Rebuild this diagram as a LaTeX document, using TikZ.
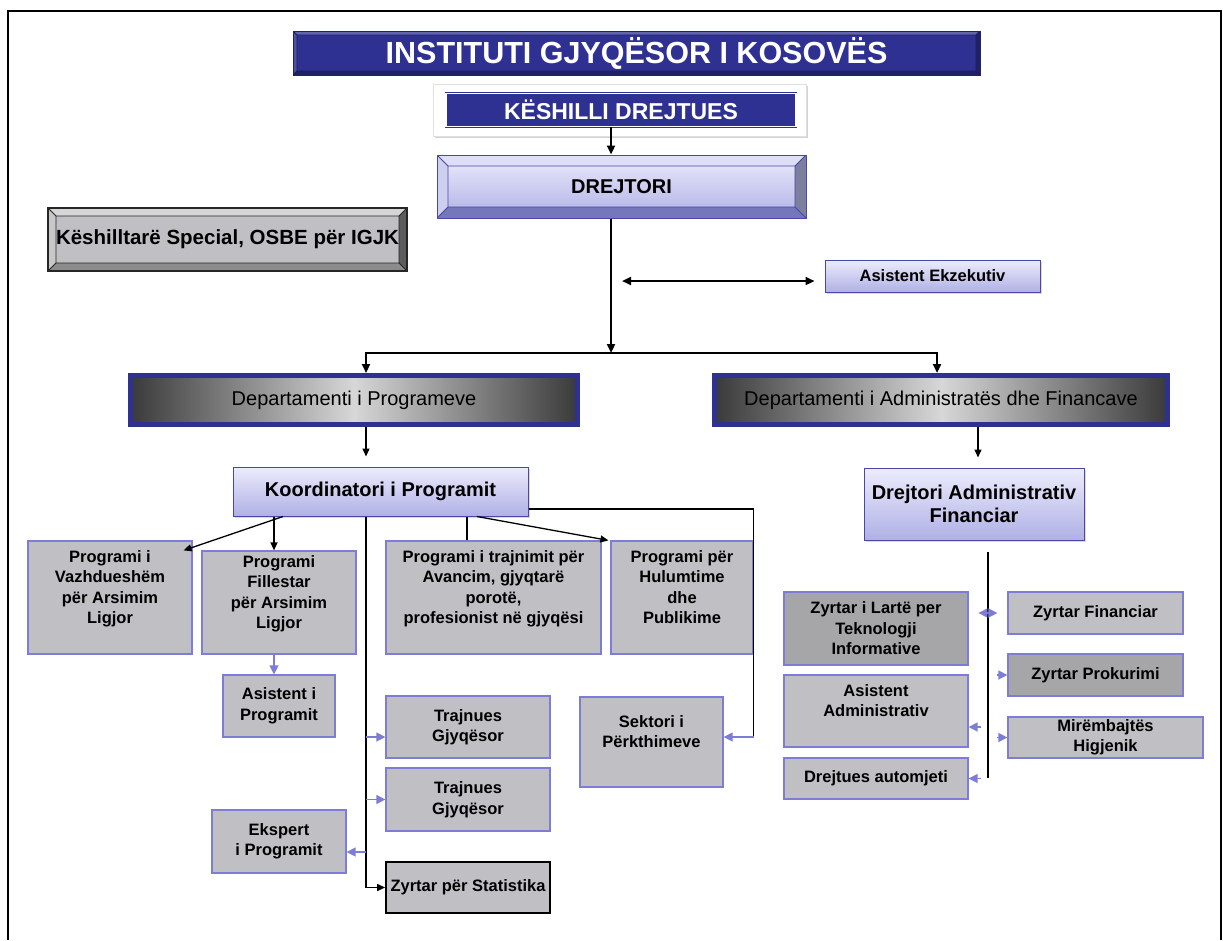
\documentclass[tikz,border=0pt]{standalone}
\usepackage{fontspec}
\setmainfont{Liberation Sans}
\usetikzlibrary{arrows.meta,positioning,calc,shadows}

\definecolor{navy}{RGB}{46,49,146}
\definecolor{lav}{RGB}{125,125,215}
\definecolor{lavedge}{RGB}{72,72,168}
\definecolor{lavtop}{RGB}{236,236,252}
\definecolor{lavbot}{RGB}{176,176,230}
\definecolor{boxgray}{RGB}{192,192,196}
\definecolor{boxdark}{RGB}{166,166,168}
\definecolor{deptdark}{RGB}{58,58,58}
\definecolor{deptlight}{RGB}{215,215,215}
\definecolor{dtop}{RGB}{222,222,246}
\definecolor{dleft}{RGB}{206,206,238}
\definecolor{dright}{RGB}{126,126,158}
\definecolor{dbot}{RGB}{118,118,186}
\definecolor{gtop}{RGB}{214,214,214}
\definecolor{gleft}{RGB}{200,200,200}
\definecolor{gright}{RGB}{92,92,92}
\definecolor{gbot}{RGB}{140,140,140}

\tikzset{
    bevel/.style n args={6}{path picture={
        \coordinate (bnw) at (path picture bounding box.north west);
        \coordinate (bne) at (path picture bounding box.north east);
        \coordinate (bsw) at (path picture bounding box.south west);
        \coordinate (bse) at (path picture bounding box.south east);
        \coordinate (inw) at ($(bnw)+(#1,#1)$);
        \coordinate (ine) at ($(bne)+(-#1,#1)$);
        \coordinate (isw) at ($(bsw)+(#1,-#1)$);
        \coordinate (ise) at ($(bse)+(-#1,-#1)$);
        \fill[#2] (bnw) -- (bne) -- (ine) -- (inw) -- cycle;
        \fill[#3] (bnw) -- (inw) -- (isw) -- (bsw) -- cycle;
        \fill[#4] (bne) -- (ine) -- (ise) -- (bse) -- cycle;
        \fill[#5] (bsw) -- (isw) -- (ise) -- (bse) -- cycle;
        \draw[#6,line width=.8pt] (inw) rectangle (ise) (bnw) -- (inw) (bne) -- (ine) (bsw) -- (isw) (bse) -- (ise);
    }}
}

\begin{document}
\begin{tikzpicture}[x=1pt,y=-1pt,
    arrow/.style={line width=2.2pt,->,>={Triangle[length=9pt,width=8pt]}},
    thinarrow/.style={line width=1.3pt,->,>={Triangle[length=8pt,width=7pt]}},
    lavarrow/.style={draw=lav,line width=1.3pt,->,>={Triangle[length=9pt,width=9pt]}},
    graybox/.style={rectangle,draw=lav,line width=1.2pt,fill=boxgray,inner sep=0pt,align=center,font=\bfseries\fontsize{16.5}{20.5}\selectfont},
    lavbox/.style={rectangle,draw=lavedge,line width=1pt,top color=lavtop,bottom color=lavbot,drop shadow={shadow xshift=2pt,shadow yshift=-2pt,opacity=.3},inner sep=0pt,align=center,font=\bfseries\fontsize{20}{23}\selectfont},
    dept/.style={rectangle,draw=navy,line width=5pt,left color=deptdark,right color=deptdark,middle color=deptlight,inner sep=0pt,font=\fontsize{20}{24}\selectfont}
]
\useasboundingbox (0,0) rectangle (1223,940);
\draw[line width=2pt] (8,940) -- (8,11) -- (1221,11) -- (1221,940);

% top of the chart
\node[rectangle,fill=navy,draw=navy!70!black,bevel={4}{navy!75!white}{navy!85!white}{navy!70!black}{navy!70!black}{navy!60!black},minimum width=687pt,minimum height=44pt,text=white,font=\bfseries\fontsize{30.5}{34}\selectfont] (title) at (636.5,53) {INSTITUTI GJYQËSOR I KOSOVËS};
\node[rectangle,fill=white,draw=black!12,drop shadow={shadow xshift=2pt,shadow yshift=-2pt,opacity=.35},minimum width=373pt,minimum height=52pt] (keshOut) at (619.5,110) {};
\node[rectangle,fill=navy,draw=navy,double=white,double distance=1.5pt,minimum width=350pt,minimum height=33pt,text=white,font=\bfseries\fontsize{23}{26}\selectfont] (keshilli) at (621,110) {KËSHILLI DREJTUES};
\node[rectangle,draw=lavedge,line width=1pt,top color=lavtop,bottom color=lavbot,bevel={11}{dtop}{dleft}{dright}{dbot}{lavedge},minimum width=369pt,minimum height=63pt,font=\bfseries\fontsize{20}{24}\selectfont] (drejtori) at (621.5,186.5) {DREJTORI};
\node[rectangle,draw=black!85,line width=1.2pt,fill=boxgray,bevel={8}{gtop}{gleft}{gright}{gbot}{black!85},minimum width=359pt,minimum height=63pt,font=\bfseries\fontsize{20.5}{24}\selectfont] (special) at (227.5,239.5) {Këshilltarë Special, OSBE për IGJK};
\node[lavbox,font=\bfseries\fontsize{16.5}{20}\selectfont,minimum width=215pt,minimum height=32pt] (ekzekutiv) at (932.5,276) {Asistent Ekzekutiv};

% departments
\node[dept,minimum width=447pt,minimum height=49pt] (depProg) at (354,400) {Departamenti i Programeve};
\node[dept,minimum width=453pt,minimum height=49pt] (depAdm) at (941,400) {Departamenti i Administratës dhe Financave};
\node[lavbox,minimum width=295pt,minimum height=49pt] (koord) at (380.5,491.5) {Koordinatori i Programit};
\node[lavbox,minimum width=220pt,minimum height=72pt] (drejAdm) at (974,504) {Drejtori Administrativ\\Financiar};

% programs side
\node[graybox,minimum width=164pt,minimum height=113pt] (vazhd) at (110,597.5) {Programi i\\Vazhdueshëm\\për Arsimim\\Ligjor\\\mbox{}};
\node[graybox,minimum width=154pt,minimum height=103pt] (fillestar) at (279,602.5) {Programi\\Fillestar\\për Arsimim\\Ligjor\\\mbox{}};
\node[graybox,minimum width=215pt,minimum height=113pt] (trajnimi) at (493.5,597.5) {Programi i trajnimit për\\Avancim, gjyqtarë\\porotë,\\profesionist në gjyqësi\\\mbox{}};
\node[graybox,minimum width=142pt,minimum height=113pt] (hulumtime) at (682,597.5) {Programi për\\Hulumtime\\dhe\\Publikime\\\mbox{}};
\node[graybox,minimum width=112pt,minimum height=62pt] (asistProg) at (279,706) {Asistent i\\Programit};
\node[graybox,minimum width=164pt,minimum height=62pt] (trajnues1) at (468,727) {Trajnues\\Gjyqësor};
\node[graybox,minimum width=164pt,minimum height=63pt] (trajnues2) at (468,799.5) {Trajnues\\Gjyqësor};
\node[graybox,minimum width=134pt,minimum height=63pt] (ekspert) at (279,841.5) {Ekspert\\i Programit};
\node[graybox,draw=black,line width=1.8pt,minimum width=164pt,minimum height=51pt] (statistika) at (468,887.5) {Zyrtar për Statistika};
\node[graybox,minimum width=143pt,minimum height=90pt] (sektori) at (651.5,742) {Sektori i\\Përkthimeve\\\mbox{}};

% administration side
\node[graybox,fill=boxdark,minimum width=184pt,minimum height=73pt] (itZyrtar) at (876,628.5) {Zyrtar i Lartë per\\Teknologji\\Informative};
\node[graybox,minimum width=175pt,minimum height=42pt] (financiar) at (1095.5,613) {Zyrtar Financiar};
\node[graybox,fill=boxdark,minimum width=175pt,minimum height=42pt] (prokurimi) at (1095.5,675) {Zyrtar Prokurimi};
\node[graybox,minimum width=184pt,minimum height=72pt] (asistAdm) at (876,711) {Asistent\\Administrativ\\\mbox{}};
\node[graybox,minimum width=195pt,minimum height=41pt] (higjenik) at (1105.5,737.5) {Mirëmbajtës\\Higjenik};
\node[graybox,minimum width=184pt,minimum height=41pt] (automjeti) at (876,778.5) {Drejtues automjeti};

% connectors
\coordinate (bus) at (611,353);
\coordinate (ekzL) at (622,281);
\coordinate (spine) at ([xshift=-14.5pt]koord.south);
\coordinate (rtop) at (988,552);
\coordinate (rbot) at (988,778);
\coordinate (pkTurn) at ($(hulumtime.east |- sektori.east)+(0,-5)$);

\draw[arrow] ([xshift=-10pt]keshilli.south) -- ([xshift=-10.5pt]drejtori.north);
\draw[arrow] ([xshift=-10.5pt]drejtori.south) -- (bus);
\draw[arrow] (bus) -| ([xshift=12pt]depProg.north);
\draw[arrow] (bus) -| ([xshift=-4pt]depAdm.north);
\draw[arrow,<->] (ekzL) -- ([xshift=-10pt,yshift=-5pt]ekzekutiv.west);
\draw[thinarrow,shorten >=10pt] ([xshift=12pt]depProg.south) -- ([xshift=12pt]depProg.south |- koord.north);
\draw[thinarrow,shorten >=10pt] ([xshift=37pt]depAdm.south) -- ([xshift=37pt]depAdm.south |- drejAdm.north);

\draw[thinarrow] ([xshift=-97.5pt]koord.south) -- ([xshift=-9pt,yshift=-10pt]vazhd.north east);
\draw[thinarrow] ([xshift=-106.5pt]koord.south) -- ([xshift=-106.5pt]koord.south |- fillestar.north);
\draw[thinarrow] (spine) |- (statistika.west);
\draw[line width=1.3pt] ([xshift=86.5pt]koord.south) -- ([xshift=86.5pt]koord.south |- trajnimi.north);
\draw[thinarrow] ([xshift=96.5pt]koord.south) -- ([xshift=-2pt]hulumtime.north west);
\draw[line width=1.3pt] ([yshift=-17.5pt]koord.east) -| (pkTurn);
\draw[lavarrow] (pkTurn) -- ([yshift=5pt]sektori.east);

\draw[lavarrow] ([xshift=-5pt]fillestar.south) -- ([xshift=-5pt]asistProg.north);
\draw[lavarrow] ($(spine |- trajnues1.west)+(0,10)$) -- ([yshift=-10pt]trajnues1.west);
\draw[lavarrow] (spine |- trajnues2.west) -- (trajnues2.west);
\draw[lavarrow] ($(spine |- ekspert.east)+(0,10.5)$) -- ([yshift=-10.5pt]ekspert.east);

\draw[line width=1.3pt] (rtop) -- (rbot);
\draw[lavarrow,<->] ([xshift=-29pt]financiar.west) -- ([xshift=-10pt]financiar.west);
\draw[lavarrow] ([xshift=-10pt]prokurimi.west) -- (prokurimi.west);
\draw[lavarrow] ([xshift=12pt,yshift=-16pt]asistAdm.east) -- ([yshift=-16pt]asistAdm.east);
\draw[lavarrow] ([xshift=-10pt]higjenik.west) -- (higjenik.west);
\draw[lavarrow] ([xshift=12pt]automjeti.east) -- (automjeti.east);
\end{tikzpicture}
\end{document}
